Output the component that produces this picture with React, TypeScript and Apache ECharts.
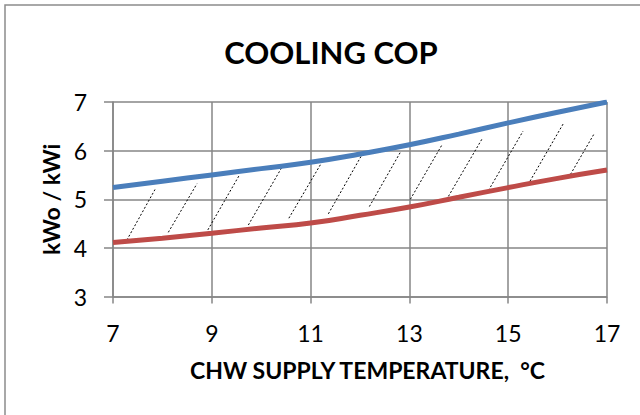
import React, { useEffect, useRef } from "react";
import * as echarts from "echarts";

const temps = [7, 8, 9, 10, 11, 12, 13, 14, 15, 16, 17];
const upperCop = [5.24, 5.37, 5.5, 5.63, 5.76, 5.93, 6.12, 6.34, 6.57, 6.79, 7.0];
const lowerCop = [4.11, 4.2, 4.3, 4.41, 4.51, 4.67, 4.84, 5.04, 5.24, 5.43, 5.6];
const xTicks = [7, 9, 11, 13, 15, 17];
const hatchStart = [
  [7.28, 4.16], [8.12, 4.32], [8.92, 4.37], [9.74, 4.47], [10.56, 4.61], [11.36, 4.7],
  [12.19, 4.85], [13.02, 5.0], [13.79, 5.06], [14.6, 5.18], [15.4, 5.3], [16.22, 5.44],
];
const hatchEnd = [
  [7.85, 5.2], [8.7, 5.32], [9.56, 5.5], [10.42, 5.66], [11.21, 5.73], [12.02, 5.88],
  [12.83, 5.99], [13.66, 6.12], [14.47, 6.24], [15.3, 6.4], [16.13, 6.58], [16.73, 6.33],
];

const FONT = "Lato";
const GRID = "#868686";

export default function App() {
  const ref = useRef<HTMLDivElement>(null);
  useEffect(() => {
    const chart = echarts.init(ref.current!, null, { renderer: "svg" });
    const hatchSeries = hatchStart.map((s, i) => ({
      type: "line",
      data: [s, hatchEnd[i]],
      symbol: "none",
      silent: true,
      z: 1,
      lineStyle: { color: "#000", width: 1, type: [2, 2] },
    }));
    chart.setOption({
      animation: false,
      textStyle: { fontFamily: FONT },
      title: {
        text: "COOLING COP",
        left: 326,
        top: 31,
        textAlign: "center",
        textStyle: { fontFamily: FONT, fontWeight: "bold", fontSize: 31, color: "#000" },
      },
      graphic: [
        {
          type: "rect",
          shape: { x: 5, y: 5, width: 700, height: 500 },
          style: { fill: "none", stroke: "#8c8c8c", lineWidth: 1.5 },
          silent: true,
        },
      ],
      grid: { left: 113, right: 33, top: 102, bottom: 118.5 },
      xAxis: {
        type: "value",
        min: 7,
        max: 17,
        name: "CHW SUPPLY TEMPERATURE,  °C",
        nameLocation: "middle",
        nameGap: 62,
        nameTextStyle: { fontFamily: FONT, fontWeight: "bold", fontSize: 23, color: "#000", padding: [0, 0, 0, 15] },
        axisLine: { show: true, lineStyle: { color: GRID, width: 1.5 } },
        axisTick: { show: true, length: 7, lineStyle: { color: GRID, width: 1.5 }, customValues: xTicks },
        axisLabel: { fontFamily: FONT, fontSize: 23, color: "#000", margin: 25, customValues: xTicks },
        splitLine: { show: true, lineStyle: { color: GRID, width: 1.5 } },
      },
      yAxis: {
        type: "value",
        min: 3,
        max: 7,
        interval: 1,
        name: "kWo / kWi",
        nameLocation: "middle",
        nameGap: 44,
        nameTextStyle: { fontFamily: FONT, fontWeight: "bold", fontSize: 23, color: "#000" },
        axisLine: { show: true, lineStyle: { color: GRID, width: 1.5 } },
        axisTick: { show: true, length: 9, lineStyle: { color: GRID, width: 1.5 } },
        axisLabel: { fontFamily: FONT, fontSize: 23, color: "#000", margin: 26 },
        splitLine: { show: true, lineStyle: { color: GRID, width: 1.5 } },
      },
      series: [
        {
          type: "line",
          data: temps.map((t, i) => [t, upperCop[i]]),
          smooth: true,
          symbol: "none",
          z: 3,
          lineStyle: { color: "#4A7EBB", width: 5 },
        },
        {
          type: "line",
          data: temps.map((t, i) => [t, lowerCop[i]]),
          smooth: true,
          symbol: "none",
          z: 3,
          lineStyle: { color: "#BE4B48", width: 5 },
        },
        ...hatchSeries,
      ],
    });
    return () => chart.dispose();
  }, []);
  return (
    <div
      ref={ref}
      style={{ position: "absolute", left: 0, top: 0, width: 640, height: 415, background: "#fff" }}
    />
  );
}
